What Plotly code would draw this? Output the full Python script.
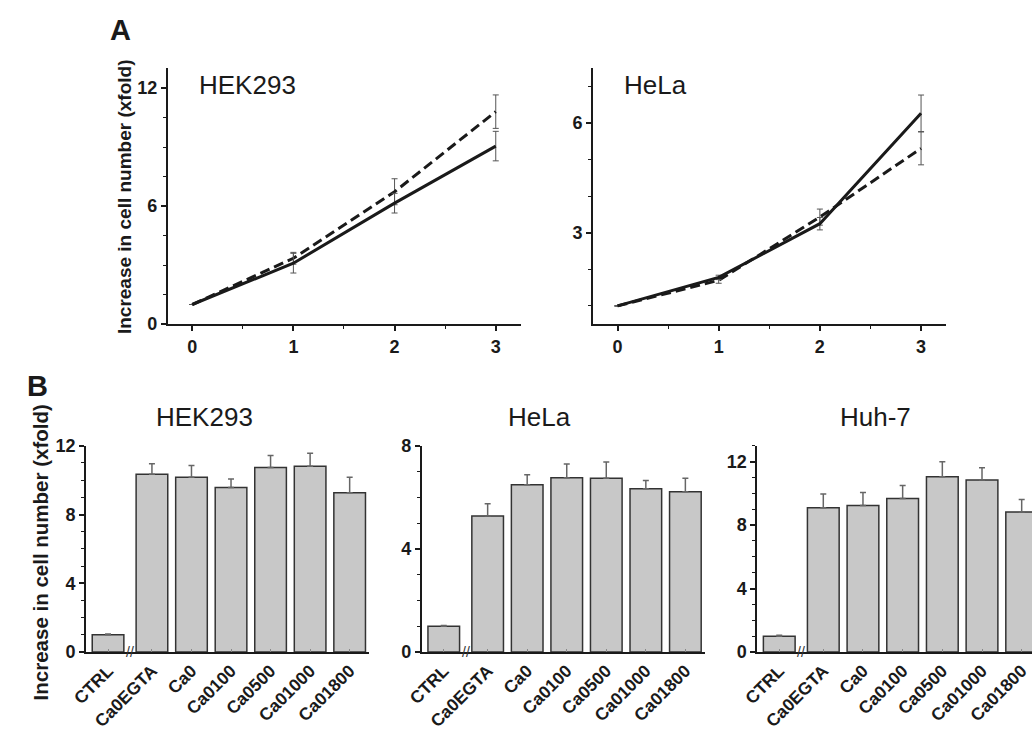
import plotly.graph_objects as go

# ---------------- data ----------------
days = [0, 1, 2, 3]

hek_solid = [1.0, 3.1, 6.15, 9.05]
hek_solid_err = [0.0, 0.5, 0.5, 0.75]
hek_dashed = [1.0, 3.35, 6.73, 10.8]
hek_dashed_err = [0.0, 0.3, 0.66, 0.85]

hela_solid = [1.0, 1.78, 3.25, 6.27]
hela_solid_err = [0.0, 0.06, 0.17, 0.5]
hela_dashed = [1.0, 1.7, 3.43, 5.31]
hela_dashed_err = [0.0, 0.08, 0.22, 0.45]

categories = ["CTRL", "Ca0EGTA", "Ca0", "Ca0100", "Ca0500", "Ca01000", "Ca01800"]
hek_bars = [1.0, 10.34, 10.17, 9.57, 10.74, 10.81, 9.26]
hek_bars_err = [0.05, 0.62, 0.68, 0.49, 0.7, 0.76, 0.91]
hela_bars = [1.0, 5.28, 6.49, 6.76, 6.74, 6.33, 6.22]
hela_bars_err = [0.03, 0.47, 0.39, 0.53, 0.63, 0.32, 0.52]
huh_bars = [1.0, 9.10, 9.24, 9.67, 11.04, 10.84, 8.83]
huh_bars_err = [0.06, 0.86, 0.82, 0.82, 0.96, 0.78, 0.78]

# ---------------- layout helpers ----------------
W, H = 1032, 733
FONT = "Liberation Sans, Arial, sans-serif"
INK = "#1a1a1a"

def px_x(a, b):
    return [a / W, min(b / W, 1.0)]

def px_y(top, bottom):
    return [1 - bottom / H, 1 - top / H]

# bar positions: CTRL slightly separated (axis break)
bar_pos = [i - 0.11 if i == 0 else i for i in range(len(categories))]

fig = go.Figure()

def add_line(x, y, err, dash, xa, ya):
    fig.add_trace(go.Scatter(
        x=x, y=y, mode="lines", xaxis=xa, yaxis=ya,
        line=dict(color=INK, width=3, dash=dash),
        error_y=dict(type="data", array=err, visible=True,
                     color="#555555", thickness=1, width=3),
        showlegend=False))

add_line(days, hek_dashed, hek_dashed_err, "10px,5px", "x", "y")
add_line(days, hek_solid, hek_solid_err, "solid", "x", "y")
add_line(days, hela_dashed, hela_dashed_err, "10px,5px", "x2", "y2")
add_line(days, hela_solid, hela_solid_err, "solid", "x2", "y2")

def add_bars(vals, err, xa, ya):
    fig.add_trace(go.Bar(
        x=bar_pos, y=vals, xaxis=xa, yaxis=ya, width=0.8,
        marker=dict(color="#c8c8c8", line=dict(color="#333333", width=1.5)),
        error_y=dict(type="data", symmetric=False, array=err,
                     arrayminus=[0] * len(err), visible=True,
                     color="#666666", thickness=1.5, width=3),
        showlegend=False))

add_bars(hek_bars, hek_bars_err, "x3", "y3")
add_bars(hela_bars, hela_bars_err, "x4", "y4")
add_bars(huh_bars, huh_bars_err, "x5", "y5")

tickfont = dict(family=FONT, size=18, color=INK, weight="bold")

def yax(domain, rng, dtick, minor, anchor):
    return dict(domain=domain, range=rng, dtick=dtick, tick0=0, anchor=anchor,
                showline=True, linecolor=INK, linewidth=1.5, showgrid=False,
                zeroline=False, ticks="outside", ticklen=5, tickwidth=1.5,
                tickcolor=INK, tickfont=tickfont,
                minor=dict(dtick=minor, tick0=0, ticks="outside", ticklen=3,
                           tickcolor=INK, tickwidth=1, showgrid=False))

def xax_line(domain, anchor):
    return dict(domain=domain, range=[-0.243, 3.25], dtick=1, tick0=0,
                anchor=anchor, showline=True, linecolor=INK, linewidth=1.5,
                showgrid=False, zeroline=False, ticks="outside", ticklen=5,
                tickwidth=1.5, tickcolor=INK, tickfont=tickfont,
                minor=dict(dtick=0.5, tick0=0, ticks="outside", ticklen=3,
                           tickcolor=INK, tickwidth=1, showgrid=False))

def xax_bar(domain, rng, anchor):
    return dict(domain=domain, range=rng, anchor=anchor, tickmode="array",
                tickvals=bar_pos, ticktext=categories, tickangle=-45,
                showline=True, linecolor=INK, linewidth=1.5, showgrid=False,
                zeroline=False, ticks="inside", ticklen=3, tickcolor="#888888",
                tickwidth=1, tickfont=dict(family=FONT, size=17.5, color=INK,
                                           weight="bold"))

A_y = px_y(60, 323)
B_y = px_y(448, 660)

fig.update_layout(
    width=W, height=H, margin=dict(l=0, r=0, t=0, b=0),
    paper_bgcolor="white", plot_bgcolor="white",
    font=dict(family=FONT, color=INK),
    bargap=0.2,
    xaxis=xax_line(px_x(154, 513), "y"),
    yaxis=yax(A_y, [0, 13], 6, 1.5, "x"),
    xaxis2=xax_line(px_x(586, 945), "y2"),
    yaxis2=yax(A_y, [0.5, 7.5], 3, 1, "x2"),
    xaxis3=xax_bar(px_x(71, 359), [-0.67, 6.5], "y3"),
    yaxis3=yax(B_y, [0, 12], 4, 1, "x3"),
    xaxis4=xax_bar(px_x(412, 700), [-0.67, 6.5], "y4"),
    yaxis4=yax(B_y, [0, 8], 4, 1, "x4"),
    xaxis5=xax_bar(px_x(752.7, 1032), [-0.67, 6.26], "y5"),
    yaxis5=yax(B_y, [0, 13], 4, 1, "x5"),
)

ann = []
def label(text, x, y, size, bold=False, xanchor="center", angle=0):
    ann.append(dict(text=text, x=x / W, y=1 - y / H, xref="paper", yref="paper",
                    xanchor=xanchor, yanchor="middle", showarrow=False,
                    textangle=angle,
                    font=dict(family=FONT, size=size, color=INK,
                              weight="bold" if bold else "normal")))

label("A", 106, 21, 29, bold=True)
label("B", 22, 387, 29, bold=True)
label("HEK293", 184, 77, 26, xanchor="left")
label("HeLa", 616, 77, 26, xanchor="left")
label("HEK293", 191, 418, 26)
label("HeLa", 532, 418, 26)
label("Huh-7", 873, 418, 26)
label("Increase in cell number (xfold)", 110, 192, 19, bold=True, angle=-90)
label("Increase in cell number (xfold)", 25, 558, 20.5, bold=True, angle=-90)

# axis-break marks between CTRL and the treatment bars
for xa, ya in [("x3", "y3"), ("x4", "y4"), ("x5", "y5")]:
    ann.append(dict(text="//", x=(bar_pos[0] + bar_pos[1]) / 2, y=0,
                    xref=xa, yref=ya, showarrow=False, xanchor="center",
                    yanchor="middle",
                    font=dict(family=FONT, size=14, color="#333333")))

fig.update_layout(annotations=ann)

fig.write_html("out.html")
